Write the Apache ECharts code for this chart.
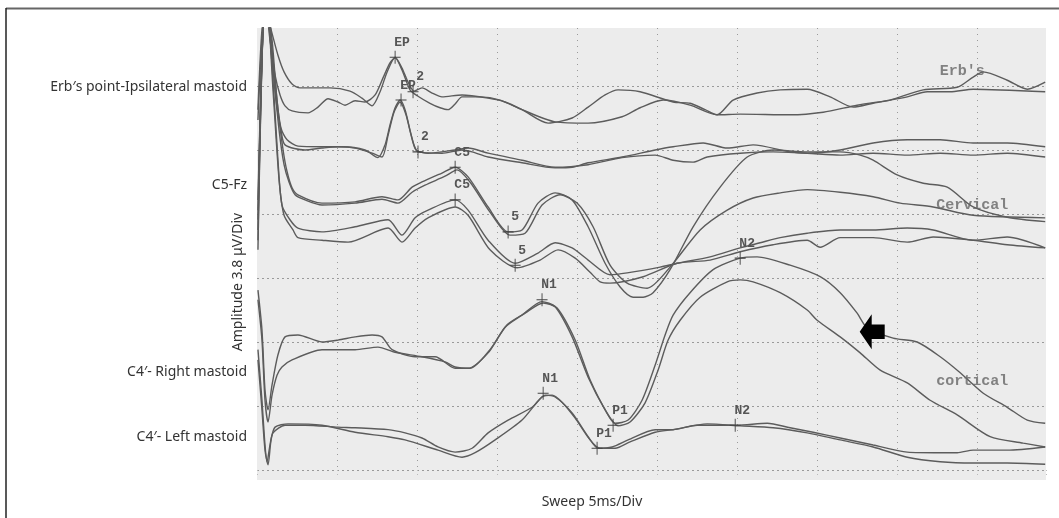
<!DOCTYPE html>
<html>
<head>
<meta charset="utf-8">
<script src="https://cdn.jsdelivr.net/npm/echarts@6/dist/echarts.min.js"></script>
<style>
  html, body { margin: 0; padding: 0; background: #fff; }
  #chart { width: 1059px; height: 518px; }
</style>
</head>
<body>
<div id="chart"></div>
<script>
// time in ms (5 ms/div), amplitude in divisions (3.8 uV/div)
const erbA = [[0.06,5.47],[0.31,6.72],[0.56,7.19],[0.88,6.88],[1.31,6.48],[1.69,6.22],[2.19,6.03],[2.69,5.97],[4.56,5.97],[5.81,5.92],[6.56,5.81],[7.19,5.69],[7.69,5.91],[8.13,6.22],[8.63,6.45],[9.06,6.28],[9.44,6.06],[9.81,5.92],[10.31,5.97],[10.94,5.89],[11.56,5.83],[12.81,5.86],[14.44,5.81],[15.5,5.75],[16.56,5.63],[18.19,5.42],[19.69,5.5],[20.69,5.67],[21.75,5.86],[22.56,5.94],[23.94,5.91],[26.0,5.75],[27.06,5.73],[28.0,5.63],[28.75,5.55],[29.75,5.78],[31.25,5.89],[32.69,5.94],[34.38,5.95],[35.81,5.83],[37.25,5.67],[38.5,5.73],[39.56,5.78],[41.63,5.94],[43.75,5.98],[44.75,6.14],[45.38,6.22],[46.88,6.09],[48.13,5.95],[49.25,6.06]];
const erbB = [[0.06,5.63],[0.31,6.88],[0.56,7.19],[0.81,6.72],[1.13,6.17],[1.44,5.86],[1.75,5.69],[2.19,5.61],[3.19,5.58],[3.81,5.67],[4.44,5.8],[5.06,5.75],[5.5,5.7],[6.13,5.77],[6.75,5.75],[7.38,5.86],[7.88,6.13],[8.31,6.36],[8.63,6.44],[9.06,6.25],[9.56,5.94],[10.06,5.84],[10.81,5.73],[11.44,5.66],[11.94,5.63],[12.38,5.72],[12.81,5.83],[13.94,5.83],[15.19,5.78],[16.56,5.63],[18.63,5.44],[20.69,5.42],[22.81,5.52],[23.94,5.66],[25.38,5.78],[27.06,5.7],[28.75,5.55],[30.19,5.56],[33.31,5.55],[35.38,5.59],[37.5,5.7],[39.56,5.78],[40.63,5.83],[41.88,5.91],[43.31,5.91],[44.75,5.95],[49.25,5.91]];
const erb2A = [[0.06,4.22],[0.38,6.91],[0.63,7.19],[0.94,6.72],[1.25,5.78],[1.5,5.34],[1.88,5.16],[2.56,5.06],[4.06,5.05],[5.31,5.05],[6.75,5.0],[7.56,4.88],[8.0,5.08],[8.31,5.39],[8.63,5.66],[8.94,5.78],[9.25,5.63],[9.56,5.31],[9.81,5.08],[10.06,4.97],[11.56,4.95],[12.81,5.0],[13.44,4.97],[14.44,4.89],[16.56,4.8],[18.63,4.72],[19.69,4.73],[20.69,4.8],[22.81,4.89],[24.88,5.0],[26.0,5.05],[27.88,5.11],[29.38,5.03],[31.0,5.08],[33.31,4.97],[34.38,4.95],[36.44,5.0],[38.5,5.11],[40.63,5.16],[42.69,5.16],[44.75,5.11],[46.88,5.11],[49.25,5.05]];
const erb2B = [[0.06,4.06],[0.38,6.91],[0.63,7.19],[0.88,6.72],[1.19,5.78],[1.5,5.31],[1.75,5.08],[3.0,5.0],[4.06,5.03],[5.06,5.05],[6.13,5.03],[7.19,4.95],[7.81,4.89],[8.19,5.23],[8.56,5.59],[8.94,5.75],[9.31,5.55],[9.63,5.23],[9.94,5.0],[10.69,4.95],[12.38,5.0],[13.19,5.03],[14.44,4.95],[16.56,4.84],[18.63,4.73],[20.69,4.77],[22.81,4.88],[24.88,4.92],[26.0,4.84],[27.25,4.81],[28.13,4.89],[30.19,4.95],[32.25,4.97],[34.38,4.95],[36.44,4.92],[38.5,4.95],[40.63,4.92],[42.69,4.95],[44.75,4.92],[46.88,4.95],[49.25,4.89]];
const cervA = [[0.06,3.91],[0.38,6.91],[0.63,7.19],[0.94,6.56],[1.31,5.63],[1.63,5.0],[1.88,4.66],[2.19,4.41],[2.56,4.3],[4.06,4.17],[6.13,4.19],[7.81,4.27],[8.81,4.22],[9.69,4.42],[10.31,4.5],[11.56,4.64],[12.38,4.73],[13.19,4.58],[14.44,4.11],[15.69,3.72],[16.56,3.75],[17.56,4.17],[18.63,4.33],[19.69,4.22],[20.69,3.8],[21.75,3.23],[22.69,2.86],[23.5,2.7],[24.13,2.7],[24.75,2.77],[25.81,3.13],[27.25,3.8],[28.94,4.42],[30.63,4.89],[32.25,5.0],[34.38,4.97],[36.44,4.97],[37.69,4.92],[38.5,4.84],[40.0,4.61],[41.63,4.48],[43.13,4.42],[44.75,4.11],[46.88,3.95],[49.25,3.88]];
const cervB = [[0.06,3.75],[0.38,6.91],[0.63,7.19],[0.94,6.41],[1.38,5.31],[1.69,4.77],[2.0,4.5],[2.38,4.3],[3.0,4.22],[4.06,4.14],[6.13,4.17],[7.81,4.23],[8.81,4.17],[9.69,4.34],[10.5,4.45],[11.75,4.59],[12.5,4.69],[13.31,4.5],[14.56,4.03],[15.81,3.67],[16.75,3.7],[17.81,4.14],[18.94,4.3],[20.0,4.17],[21.0,3.8],[22.06,3.2],[23.13,2.92],[24.38,2.84],[25.81,3.17],[27.69,3.75],[29.38,4.06],[31.0,4.25],[32.69,4.33],[34.38,4.38],[36.44,4.34],[38.5,4.27],[40.19,4.17],[42.25,4.11],[44.75,3.98],[49.25,3.94]];
const cerv2A = [[0.06,3.59],[0.38,6.91],[0.63,7.19],[1.0,6.09],[1.31,4.84],[1.56,4.14],[2.06,3.91],[2.56,3.78],[4.06,3.72],[6.13,3.8],[8.19,3.91],[9.06,3.67],[9.88,3.94],[10.69,4.06],[12.38,4.22],[13.19,4.06],[14.44,3.59],[16.13,3.23],[17.56,3.39],[18.63,3.55],[19.69,3.47],[20.69,3.28],[22.06,3.05],[23.13,3.08],[25.19,3.17],[26.25,3.23],[28.31,3.33],[30.19,3.47],[31.44,3.55],[32.69,3.63],[34.38,3.7],[36.44,3.75],[38.5,3.75],[40.63,3.78],[42.25,3.75],[44.75,3.59],[46.88,3.64],[49.25,3.47]];
const cerv2B = [[0.06,3.44],[0.38,6.91],[0.63,7.19],[1.0,5.94],[1.38,4.53],[1.69,3.98],[2.25,3.75],[2.56,3.63],[4.06,3.59],[5.69,3.56],[8.19,3.78],[9.06,3.56],[9.88,3.78],[10.69,3.94],[12.38,4.11],[13.19,3.98],[14.56,3.44],[16.25,3.16],[17.69,3.28],[18.81,3.44],[19.88,3.31],[20.81,3.09],[21.44,2.94],[22.06,2.92],[24.13,3.02],[26.25,3.23],[28.31,3.28],[30.19,3.41],[32.25,3.52],[34.38,3.59],[35.19,3.48],[36.44,3.63],[38.5,3.63],[40.63,3.56],[42.25,3.64],[44.75,3.59],[46.88,3.52],[49.25,3.47]];
const rightA = [[0.06,2.81],[0.31,2.19],[0.5,1.25],[0.69,0.94],[0.94,1.33],[1.31,1.8],[1.75,2.08],[2.56,2.11],[4.06,2.0],[5.06,2.03],[6.13,2.08],[7.19,2.11],[7.81,2.08],[8.44,1.88],[9.88,1.77],[11.13,1.77],[12.38,1.59],[13.19,1.59],[14.44,1.83],[15.5,2.23],[16.56,2.42],[17.81,2.63],[18.63,2.55],[19.69,2.08],[20.69,1.45],[21.75,0.94],[22.38,0.73],[23.19,0.78],[24.06,1.09],[24.88,1.64],[25.5,2.11],[26.0,2.42],[27.06,2.77],[28.5,3.13],[30.19,3.31],[31.25,3.33],[33.31,3.2],[35.19,3.02],[36.44,2.77],[37.5,2.45],[38.13,2.22],[39.75,2.06],[41.25,2.0],[42.69,1.77],[43.94,1.52],[45.38,1.2],[46.88,0.98],[48.13,0.78],[49.25,0.73]];
const rightB = [[0.06,2.66],[0.31,2.03],[0.5,1.09],[0.69,0.75],[0.94,1.17],[1.25,1.48],[1.56,1.61],[2.19,1.72],[4.06,1.88],[6.13,1.88],[7.56,1.92],[8.63,1.84],[10.31,1.77],[11.75,1.69],[12.38,1.61],[13.31,1.59],[14.56,1.88],[15.63,2.27],[16.75,2.45],[17.88,2.61],[18.75,2.53],[19.88,2.03],[20.81,1.41],[21.88,0.89],[22.56,0.69],[23.31,0.75],[24.25,1.05],[25.06,1.56],[25.69,2.03],[26.44,2.34],[27.69,2.7],[29.38,2.94],[30.19,2.97],[31.0,2.94],[32.69,2.77],[34.38,2.5],[35.0,2.34],[36.44,2.08],[37.69,1.83],[38.94,1.56],[40.63,1.36],[42.06,1.09],[43.75,0.86],[45.81,0.52],[47.88,0.42],[49.25,0.36]];
const leftA = [[0.06,1.88],[0.31,1.09],[0.5,0.39],[0.63,0.13],[0.81,0.39],[1.0,0.58],[1.75,0.7],[3.0,0.7],[5.06,0.67],[6.13,0.66],[8.19,0.63],[9.25,0.58],[10.31,0.5],[11.31,0.36],[12.38,0.28],[13.44,0.34],[14.44,0.58],[15.69,0.78],[17.19,0.98],[18.0,1.17],[18.63,1.14],[19.69,0.89],[20.69,0.52],[21.31,0.34],[22.19,0.36],[23.19,0.47],[24.88,0.63],[26.0,0.63],[27.5,0.7],[30.0,0.7],[31.88,0.73],[33.31,0.66],[34.75,0.59],[36.44,0.5],[38.5,0.39],[40.63,0.28],[42.69,0.27],[43.75,0.27],[44.75,0.31],[46.88,0.31],[49.25,0.36]];
const leftB = [[0.06,1.72],[0.31,0.94],[0.5,0.31],[0.69,0.08],[0.88,0.47],[1.13,0.67],[1.94,0.72],[4.06,0.7],[6.13,0.59],[8.19,0.52],[9.25,0.47],[11.31,0.31],[12.81,0.2],[13.63,0.27],[14.88,0.47],[16.56,0.78],[17.81,1.14],[18.44,1.17],[19.06,1.06],[19.88,0.81],[20.81,0.47],[21.44,0.34],[22.38,0.34],[23.31,0.44],[24.88,0.59],[26.0,0.63],[28.13,0.72],[30.19,0.69],[32.25,0.66],[34.38,0.58],[36.44,0.47],[38.5,0.36],[40.63,0.2],[42.69,0.13],[44.75,0.11],[46.88,0.11],[49.25,0.09]];

// latency marks: [ms, div, label]
const peakMarks = [
  [8.63,6.45,'EP'], [9.75,5.91,'2'],
  [9.0,5.78,'EP'], [10.06,4.97,'2'],
  [12.38,4.73,'C5'], [15.69,3.72,'5'],
  [12.38,4.22,'C5'], [16.13,3.2,'5'],
  [17.81,2.66,'N1'], [22.25,0.7,'P1'], [30.19,3.31,'N2'],
  [17.88,1.2,'N1'], [21.25,0.34,'P1'], [29.88,0.7,'N2']
];
const traceNames = [[44.06,6.23,'Erb′s'], [44.69,4.14,'Cervical'], [44.69,1.39,'cortical']];
const arrowAt = [38.44, 2.16];

const channelLabels = [
  ['Erb′s point-Ipsilateral mastoid', 87],
  ['C5-Fz', 185],
  ['C4′- Right mastoid', 372],
  ['C4′- Left mastoid', 437]
];

const traces = [erbA, erbB, erb2A, erb2B, cervA, cervB, cerv2A, cerv2B, rightA, rightB, leftA, leftB];

const chart = echarts.init(document.getElementById('chart'));

const textFont = '14px "Noto Sans"';
const graphics = [
  { type: 'rect', silent: true, z: -100, shape: { x: 257, y: 28, width: 789, height: 452 }, style: { fill: '#ececec' } },
  { type: 'line', silent: true, shape: { x1: 6, y1: 8.5, x2: 1059, y2: 8.5 }, style: { stroke: '#666', lineWidth: 2 } },
  { type: 'line', silent: true, shape: { x1: 6, y1: 8, x2: 6, y2: 518 }, style: { stroke: '#222', lineWidth: 1.5 } },
  { type: 'text', silent: true, x: 238, y: 282, rotation: Math.PI / 2,
    style: { text: 'Amplitude 3.8 μV/Div', font: textFont, fill: '#333', align: 'center', verticalAlign: 'middle', textAlign: 'center', textVerticalAlign: 'middle' } },
  { type: 'text', silent: true, x: 592, y: 502,
    style: { text: 'Sweep 5ms/Div', font: textFont, fill: '#333', align: 'center', verticalAlign: 'middle', textAlign: 'center', textVerticalAlign: 'middle' } }
];
channelLabels.forEach(([t, y]) => {
  graphics.push({ type: 'text', silent: true, x: 247, y: y,
    style: { text: t, font: textFont, fill: '#333', align: 'right', verticalAlign: 'middle', textAlign: 'right', textVerticalAlign: 'middle' } });
});

const series = traces.map(d => ({
  type: 'line',
  data: d,
  showSymbol: false,
  smooth: 0.25,
  clip: true,
  silent: true,
  z: 3,
  lineStyle: { color: '#5c5c5c', width: 1.4 }
}));

series.push({
  type: 'scatter',
  data: peakMarks,
  symbol: 'path://M0,6L12,6M6,0L6,12',
  symbolSize: [11, 13],
  silent: true,
  z: 4,
  itemStyle: { color: 'none', borderColor: '#444', borderWidth: 1, opacity: 1 },
  label: {
    show: true, position: 'top', distance: 2, offset: [7, 3],
    formatter: p => p.data[2],
    fontFamily: 'Liberation Mono', fontSize: 13, fontWeight: 'bold', color: '#555'
  }
});

series.push({
  type: 'scatter',
  data: traceNames,
  symbol: 'circle',
  symbolSize: 1,
  silent: true,
  z: 4,
  itemStyle: { color: 'rgba(0,0,0,0)' },
  label: {
    show: true, position: 'inside',
    formatter: p => p.data[2],
    fontFamily: 'Liberation Mono', fontSize: 15, fontWeight: 'bold', color: '#666'
  }
});

series.push({
  type: 'scatter',
  data: [arrowAt],
  symbol: 'path://M0,17L12,0L12,10L25,10L25,24L12,24L12,34Z',
  symbolSize: [25, 35],
  silent: true,
  z: 5,
  itemStyle: { color: '#000', opacity: 1 }
});

chart.setOption({
  animation: false,
  backgroundColor: '#fff',
  graphic: graphics,
  grid: { left: 257, top: 28, width: 789, height: 442 },
  xAxis: {
    type: 'value', min: 0, max: 49.3, interval: 5,
    axisLine: { show: false },
    axisLabel: { show: false },
    axisTick: { show: true, length: 8, lineStyle: { color: '#bbb', type: [1, 3] } },
    splitLine: { show: true, showMinLine: false, showMaxLine: false, lineStyle: { color: '#9a9a9a', type: [1, 5], width: 1 } }
  },
  yAxis: {
    type: 'value', min: 0, max: 6.906, interval: 1,
    axisLine: { show: false },
    axisLabel: { show: false },
    axisTick: { show: false },
    splitLine: { show: true, showMinLine: true, showMaxLine: false, lineStyle: { color: '#9a9a9a', type: [2, 3], width: 1 } }
  },
  series: series
});
</script>
</body>
</html>
